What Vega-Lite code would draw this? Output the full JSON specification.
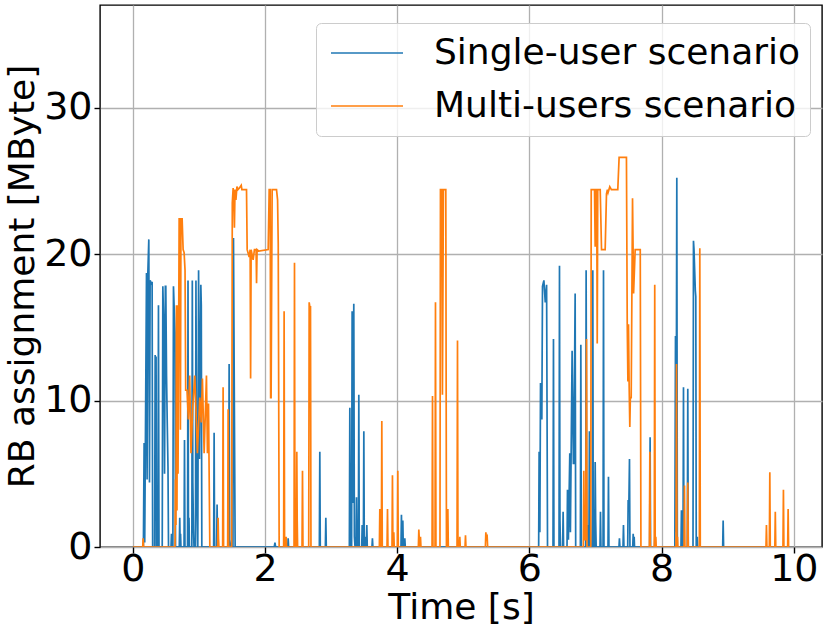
{
  "$schema": "https://vega.github.io/schema/vega-lite/v6.json",
  "width": 722,
  "height": 542,
  "autosize": {"type": "none"},
  "padding": {"left": 100, "top": 5, "right": 1, "bottom": 81},
  "background": "white",
  "config": {
    "font": "DejaVu Sans",
    "view": {"stroke": "#000000", "strokeWidth": 1.4},
    "axis": {
      "grid": true,
      "gridColor": "#b0b0b0",
      "gridWidth": 1.3,
      "domain": false,
      "tickColor": "#000000",
      "tickSize": 6,
      "tickWidth": 1.4,
      "labelFont": "DejaVu Sans",
      "labelFontSize": 38,
      "labelColor": "#000000",
      "titleFont": "DejaVu Sans",
      "titleFontSize": 36,
      "titleFontWeight": "normal",
      "titleColor": "#000000"
    }
  },
  "datasets": {
    "single": [
      {"t": 0, "v": 0},
      {"t": 0.16, "v": 0}, {"t": 0.171, "v": 7.1}, {"t": 0.18, "v": 0.3}, {"t": 0.19, "v": 6.9},
      {"t": 0.207, "v": 18.7}, {"t": 0.216, "v": 4.6}, {"t": 0.226, "v": 18.5}, {"t": 0.242, "v": 21.0},
      {"t": 0.252, "v": 4.4}, {"t": 0.262, "v": 18.2}, {"t": 0.28, "v": 18.0}, {"t": 0.292, "v": 18.1}, {"t": 0.3, "v": 0},
      {"t": 0.33, "v": 0}, {"t": 0.338, "v": 13.1}, {"t": 0.345, "v": 10.3}, {"t": 0.352, "v": 13.0}, {"t": 0.358, "v": 0},
      {"t": 0.38, "v": 0}, {"t": 0.388, "v": 16.5}, {"t": 0.396, "v": 0},
      {"t": 0.445, "v": 0}, {"t": 0.454, "v": 17.8}, {"t": 0.47, "v": 14.8}, {"t": 0.48, "v": 5.0}, {"t": 0.492, "v": 17.8},
      {"t": 0.499, "v": 17.8}, {"t": 0.51, "v": 11.7}, {"t": 0.52, "v": 8.7}, {"t": 0.532, "v": 5.5}, {"t": 0.54, "v": 0},
      {"t": 0.578, "v": 0}, {"t": 0.585, "v": 0.9}, {"t": 0.592, "v": 0},
      {"t": 0.606, "v": 0}, {"t": 0.615, "v": 17.8}, {"t": 0.638, "v": 14.6}, {"t": 0.646, "v": 0},
      {"t": 0.703, "v": 0}, {"t": 0.71, "v": 2.0}, {"t": 0.717, "v": 0}, {"t": 0.722, "v": 0.9}, {"t": 0.728, "v": 0},
      {"t": 0.775, "v": 0}, {"t": 0.782, "v": 7.3}, {"t": 0.789, "v": 0},
      {"t": 0.828, "v": 0}, {"t": 0.835, "v": 18.2}, {"t": 0.842, "v": 0}, {"t": 0.85, "v": 2.0}, {"t": 0.857, "v": 0},
      {"t": 0.893, "v": 0}, {"t": 0.9, "v": 18.2}, {"t": 0.908, "v": 4.4}, {"t": 0.918, "v": 1.2}, {"t": 0.926, "v": 0},
      {"t": 0.948, "v": 0}, {"t": 0.955, "v": 18.2}, {"t": 0.965, "v": 6.0}, {"t": 0.975, "v": 2.0}, {"t": 0.983, "v": 0},
      {"t": 0.995, "v": 18.9}, {"t": 1.008, "v": 6.0}, {"t": 1.029, "v": 17.9}, {"t": 1.036, "v": 16.5}, {"t": 1.044, "v": 0},
      {"t": 1.223, "v": 0}, {"t": 1.23, "v": 7.8}, {"t": 1.237, "v": 0},
      {"t": 1.268, "v": 0}, {"t": 1.275, "v": 2.9}, {"t": 1.282, "v": 0},
      {"t": 1.45, "v": 0}, {"t": 1.457, "v": 12.5}, {"t": 1.465, "v": 0.5}, {"t": 1.48, "v": 0},
      {"t": 1.515, "v": 0}, {"t": 1.523, "v": 21.1}, {"t": 1.53, "v": 15.0}, {"t": 1.548, "v": 0},
      {"t": 2.14, "v": 0}, {"t": 2.15, "v": 0.3}, {"t": 2.16, "v": 0},
      {"t": 2.343, "v": 0}, {"t": 2.35, "v": 0.6}, {"t": 2.357, "v": 0},
      {"t": 2.822, "v": 0}, {"t": 2.829, "v": 6.5}, {"t": 2.836, "v": 0},
      {"t": 2.913, "v": 0}, {"t": 2.92, "v": 2.0}, {"t": 2.927, "v": 0},
      {"t": 3.276, "v": 0}, {"t": 3.283, "v": 9.5}, {"t": 3.292, "v": 0.5}, {"t": 3.3, "v": 0},
      {"t": 3.31, "v": 0}, {"t": 3.318, "v": 16.1}, {"t": 3.33, "v": 3.0}, {"t": 3.343, "v": 16.6}, {"t": 3.352, "v": 0.7}, {"t": 3.362, "v": 0},
      {"t": 3.377, "v": 0}, {"t": 3.384, "v": 3.4}, {"t": 3.391, "v": 0},
      {"t": 3.412, "v": 0}, {"t": 3.419, "v": 10.4}, {"t": 3.426, "v": 0},
      {"t": 3.463, "v": 0}, {"t": 3.47, "v": 1.5}, {"t": 3.477, "v": 0},
      {"t": 3.488, "v": 0}, {"t": 3.495, "v": 7.9}, {"t": 3.502, "v": 0}, {"t": 3.51, "v": 0.7}, {"t": 3.517, "v": 0},
      {"t": 3.533, "v": 0}, {"t": 3.54, "v": 1.5}, {"t": 3.547, "v": 0},
      {"t": 3.618, "v": 0}, {"t": 3.625, "v": 0.6}, {"t": 3.632, "v": 0},
      {"t": 4.057, "v": 0}, {"t": 4.064, "v": 2.2}, {"t": 4.071, "v": 0}, {"t": 4.078, "v": 0}, {"t": 4.085, "v": 1.8}, {"t": 4.092, "v": 0},
      {"t": 4.108, "v": 0}, {"t": 4.115, "v": 0.6}, {"t": 4.122, "v": 0},
      {"t": 6.14, "v": 0}, {"t": 6.147, "v": 6.5}, {"t": 6.158, "v": 1.0}, {"t": 6.168, "v": 11.2}, {"t": 6.188, "v": 8.7},
      {"t": 6.198, "v": 17.8}, {"t": 6.219, "v": 18.2}, {"t": 6.24, "v": 16.7}, {"t": 6.26, "v": 17.9}, {"t": 6.274, "v": 0},
      {"t": 6.357, "v": 0}, {"t": 6.364, "v": 14.2}, {"t": 6.371, "v": 0},
      {"t": 6.448, "v": 0}, {"t": 6.455, "v": 19.2}, {"t": 6.462, "v": 1.9}, {"t": 6.47, "v": 0},
      {"t": 6.503, "v": 0}, {"t": 6.51, "v": 2.4}, {"t": 6.517, "v": 0},
      {"t": 6.569, "v": 0}, {"t": 6.576, "v": 3.9}, {"t": 6.59, "v": 0.5}, {"t": 6.611, "v": 6.4}, {"t": 6.62, "v": 1.0},
      {"t": 6.646, "v": 13.4}, {"t": 6.665, "v": 5.7}, {"t": 6.672, "v": 5.7}, {"t": 6.692, "v": 17.3}, {"t": 6.7, "v": 0},
      {"t": 6.771, "v": 0}, {"t": 6.778, "v": 13.8}, {"t": 6.785, "v": 0},
      {"t": 6.851, "v": 0}, {"t": 6.858, "v": 18.9}, {"t": 6.868, "v": 0.8}, {"t": 6.88, "v": 1.5}, {"t": 6.89, "v": 0},
      {"t": 6.9, "v": 0}, {"t": 6.908, "v": 7.9}, {"t": 6.916, "v": 3.4}, {"t": 6.925, "v": 0},
      {"t": 6.952, "v": 0}, {"t": 6.959, "v": 18.9}, {"t": 6.966, "v": 0},
      {"t": 6.988, "v": 0}, {"t": 6.995, "v": 5.8}, {"t": 7.002, "v": 1.9}, {"t": 7.01, "v": 0},
      {"t": 7.068, "v": 0}, {"t": 7.075, "v": 2.4}, {"t": 7.082, "v": 0},
      {"t": 7.114, "v": 0}, {"t": 7.121, "v": 18.9}, {"t": 7.128, "v": 0},
      {"t": 7.189, "v": 0}, {"t": 7.196, "v": 4.8}, {"t": 7.203, "v": 0},
      {"t": 7.355, "v": 0}, {"t": 7.362, "v": 0.6}, {"t": 7.369, "v": 0},
      {"t": 7.416, "v": 0}, {"t": 7.423, "v": 1.5}, {"t": 7.43, "v": 0},
      {"t": 7.487, "v": 0}, {"t": 7.494, "v": 3.2}, {"t": 7.505, "v": 3.0}, {"t": 7.514, "v": 6.0}, {"t": 7.521, "v": 0},
      {"t": 7.563, "v": 0}, {"t": 7.57, "v": 0.9}, {"t": 7.577, "v": 0}, {"t": 7.585, "v": 0.7}, {"t": 7.59, "v": 0},
      {"t": 7.819, "v": 0}, {"t": 7.826, "v": 7.5}, {"t": 7.833, "v": 0},
      {"t": 7.893, "v": 0}, {"t": 7.9, "v": 1.1}, {"t": 7.907, "v": 0},
      {"t": 8.2, "v": 0}, {"t": 8.21, "v": 14.4}, {"t": 8.218, "v": 1.0}, {"t": 8.23, "v": 25.2}, {"t": 8.238, "v": 0},
      {"t": 8.293, "v": 0}, {"t": 8.3, "v": 2.5}, {"t": 8.307, "v": 0},
      {"t": 8.324, "v": 0}, {"t": 8.331, "v": 10.9}, {"t": 8.338, "v": 0},
      {"t": 8.389, "v": 0}, {"t": 8.396, "v": 10.8}, {"t": 8.403, "v": 0},
      {"t": 8.475, "v": 0}, {"t": 8.482, "v": 20.9}, {"t": 8.49, "v": 20.3}, {"t": 8.51, "v": 17.5}, {"t": 8.517, "v": 17.1}, {"t": 8.524, "v": 0},
      {"t": 8.535, "v": 0}, {"t": 8.54, "v": 0.7}, {"t": 8.545, "v": 0},
      {"t": 8.924, "v": 0}, {"t": 8.931, "v": 1.8}, {"t": 8.938, "v": 0},
      {"t": 9.93, "v": 0}
    ],
    "multi": [
      {"t": 0, "v": 0},
      {"t": 0.15, "v": 0}, {"t": 0.156, "v": 0.6}, {"t": 0.162, "v": 0},
      {"t": 0.638, "v": 0}, {"t": 0.645, "v": 4.6}, {"t": 0.652, "v": 1.5}, {"t": 0.66, "v": 16.5}, {"t": 0.668, "v": 2.5},
      {"t": 0.676, "v": 16.5}, {"t": 0.684, "v": 5.0}, {"t": 0.701, "v": 22.4}, {"t": 0.712, "v": 22.4}, {"t": 0.72, "v": 8.0},
      {"t": 0.728, "v": 22.4}, {"t": 0.746, "v": 22.4}, {"t": 0.761, "v": 20.3}, {"t": 0.776, "v": 20.1}, {"t": 0.79, "v": 18.9},
      {"t": 0.8, "v": 10.7}, {"t": 0.82, "v": 10.7}, {"t": 0.84, "v": 8.7}, {"t": 0.86, "v": 11.7}, {"t": 0.88, "v": 6.4},
      {"t": 0.905, "v": 9.4}, {"t": 0.937, "v": 11.7}, {"t": 0.962, "v": 8.5}, {"t": 0.977, "v": 6.4}, {"t": 1.013, "v": 10.2},
      {"t": 1.035, "v": 8.5}, {"t": 1.053, "v": 11.5}, {"t": 1.079, "v": 6.4}, {"t": 1.114, "v": 11.7}, {"t": 1.129, "v": 6.4},
      {"t": 1.145, "v": 9.8}, {"t": 1.165, "v": 0},
      {"t": 1.283, "v": 0}, {"t": 1.29, "v": 2.0}, {"t": 1.296, "v": 0.6}, {"t": 1.302, "v": 0},
      {"t": 1.359, "v": 0}, {"t": 1.366, "v": 10.9}, {"t": 1.373, "v": 0},
      {"t": 1.435, "v": 0}, {"t": 1.442, "v": 9.4}, {"t": 1.449, "v": 0},
      {"t": 1.495, "v": 0}, {"t": 1.505, "v": 23.5}, {"t": 1.518, "v": 24.5}, {"t": 1.528, "v": 23.5}, {"t": 1.537, "v": 21.8},
      {"t": 1.546, "v": 24.4}, {"t": 1.56, "v": 23.7}, {"t": 1.575, "v": 24.6}, {"t": 1.59, "v": 24.4}, {"t": 1.61, "v": 24.5},
      {"t": 1.64, "v": 24.7}, {"t": 1.65, "v": 24.4}, {"t": 1.72, "v": 24.4}, {"t": 1.73, "v": 20.3}, {"t": 1.76, "v": 19.8},
      {"t": 1.775, "v": 20.3}, {"t": 1.782, "v": 11.5}, {"t": 1.79, "v": 20.3}, {"t": 1.82, "v": 19.6}, {"t": 1.84, "v": 20.3},
      {"t": 1.865, "v": 20.3}, {"t": 1.872, "v": 18.0}, {"t": 1.88, "v": 20.3}, {"t": 1.906, "v": 20.2}, {"t": 2.048, "v": 20.3},
      {"t": 2.063, "v": 24.4}, {"t": 2.078, "v": 24.4}, {"t": 2.085, "v": 10.2}, {"t": 2.092, "v": 10.2}, {"t": 2.108, "v": 24.4},
      {"t": 2.174, "v": 24.4}, {"t": 2.19, "v": 23.7}, {"t": 2.2, "v": 20.7}, {"t": 2.214, "v": 0},
      {"t": 2.282, "v": 0}, {"t": 2.289, "v": 16.1}, {"t": 2.296, "v": 0},
      {"t": 2.313, "v": 0}, {"t": 2.32, "v": 0.7}, {"t": 2.327, "v": 0},
      {"t": 2.439, "v": 0}, {"t": 2.446, "v": 19.4}, {"t": 2.453, "v": 0}, {"t": 2.474, "v": 0}, {"t": 2.481, "v": 6.5}, {"t": 2.487, "v": 1.8}, {"t": 2.493, "v": 0},
      {"t": 2.56, "v": 0}, {"t": 2.567, "v": 5.2}, {"t": 2.574, "v": 0},
      {"t": 2.661, "v": 0}, {"t": 2.668, "v": 16.7}, {"t": 2.678, "v": 16.4}, {"t": 2.688, "v": 16.4}, {"t": 2.695, "v": 0},
      {"t": 3.73, "v": 0}, {"t": 3.737, "v": 2.6}, {"t": 3.744, "v": 0},
      {"t": 3.76, "v": 0}, {"t": 3.767, "v": 8.6}, {"t": 3.774, "v": 0},
      {"t": 3.846, "v": 0}, {"t": 3.853, "v": 2.6}, {"t": 3.86, "v": 0},
      {"t": 3.921, "v": 0}, {"t": 3.928, "v": 4.9}, {"t": 3.935, "v": 0}, {"t": 3.941, "v": 0}, {"t": 3.948, "v": 1.0}, {"t": 3.955, "v": 0},
      {"t": 4.002, "v": 0}, {"t": 4.009, "v": 5.2}, {"t": 4.016, "v": 0},
      {"t": 4.32, "v": 0}, {"t": 4.327, "v": 1.2}, {"t": 4.34, "v": 0}, {"t": 4.352, "v": 0.7}, {"t": 4.359, "v": 0},
      {"t": 4.527, "v": 0}, {"t": 4.534, "v": 10.3}, {"t": 4.541, "v": 0},
      {"t": 4.572, "v": 0}, {"t": 4.579, "v": 16.7}, {"t": 4.586, "v": 0},
      {"t": 4.647, "v": 0}, {"t": 4.654, "v": 24.4}, {"t": 4.674, "v": 24.4}, {"t": 4.684, "v": 10.4}, {"t": 4.699, "v": 24.4},
      {"t": 4.735, "v": 24.4}, {"t": 4.745, "v": 0},
      {"t": 4.759, "v": 0}, {"t": 4.766, "v": 2.6}, {"t": 4.773, "v": 0},
      {"t": 4.905, "v": 0}, {"t": 4.912, "v": 14.1}, {"t": 4.919, "v": 0},
      {"t": 4.94, "v": 0}, {"t": 4.947, "v": 0.7}, {"t": 4.954, "v": 0},
      {"t": 5.026, "v": 0}, {"t": 5.033, "v": 0.8}, {"t": 5.04, "v": 0},
      {"t": 5.334, "v": 0}, {"t": 5.341, "v": 1.0}, {"t": 5.35, "v": 0.6}, {"t": 5.361, "v": 0.7}, {"t": 5.368, "v": 0},
      {"t": 6.816, "v": 0}, {"t": 6.823, "v": 5.2}, {"t": 6.83, "v": 0.5}, {"t": 6.85, "v": 0.5}, {"t": 6.864, "v": 14.2}, {"t": 6.871, "v": 0},
      {"t": 6.928, "v": 0}, {"t": 6.935, "v": 24.4}, {"t": 6.985, "v": 24.4}, {"t": 6.995, "v": 20.5}, {"t": 7.01, "v": 24.4},
      {"t": 7.018, "v": 24.4}, {"t": 7.026, "v": 13.9}, {"t": 7.034, "v": 24.4}, {"t": 7.071, "v": 24.4}, {"t": 7.091, "v": 20.3},
      {"t": 7.146, "v": 20.3}, {"t": 7.166, "v": 24.1}, {"t": 7.18, "v": 24.4}, {"t": 7.19, "v": 24.2}, {"t": 7.216, "v": 24.6},
      {"t": 7.24, "v": 24.4}, {"t": 7.337, "v": 24.4}, {"t": 7.357, "v": 26.6}, {"t": 7.468, "v": 26.6}, {"t": 7.48, "v": 15.2},
      {"t": 7.49, "v": 11.3}, {"t": 7.499, "v": 15.2}, {"t": 7.508, "v": 11.3}, {"t": 7.519, "v": 8.2}, {"t": 7.527, "v": 10.2},
      {"t": 7.54, "v": 10.2}, {"t": 7.56, "v": 23.8}, {"t": 7.576, "v": 17.3}, {"t": 7.6, "v": 20.3}, {"t": 7.677, "v": 20.3}, {"t": 7.687, "v": 0},
      {"t": 7.815, "v": 0}, {"t": 7.822, "v": 6.5}, {"t": 7.829, "v": 0},
      {"t": 7.889, "v": 0}, {"t": 7.896, "v": 17.9}, {"t": 7.903, "v": 0}, {"t": 7.912, "v": 0.7}, {"t": 7.918, "v": 0},
      {"t": 8.218, "v": 0}, {"t": 8.225, "v": 12.5}, {"t": 8.232, "v": 0}, {"t": 8.24, "v": 0.7}, {"t": 8.246, "v": 0},
      {"t": 8.339, "v": 0}, {"t": 8.346, "v": 4.2}, {"t": 8.353, "v": 0},
      {"t": 8.389, "v": 0}, {"t": 8.396, "v": 4.4}, {"t": 8.403, "v": 0},
      {"t": 8.571, "v": 0}, {"t": 8.578, "v": 20.4}, {"t": 8.585, "v": 0},
      {"t": 9.579, "v": 0}, {"t": 9.586, "v": 1.5}, {"t": 9.593, "v": 0},
      {"t": 9.63, "v": 0}, {"t": 9.637, "v": 5.1}, {"t": 9.644, "v": 0},
      {"t": 9.713, "v": 0}, {"t": 9.72, "v": 2.4}, {"t": 9.727, "v": 0},
      {"t": 9.836, "v": 0}, {"t": 9.843, "v": 3.9}, {"t": 9.85, "v": 0},
      {"t": 9.907, "v": 0}, {"t": 9.914, "v": 2.6}, {"t": 9.921, "v": 0},
      {"t": 9.93, "v": 0}
    ]
  },
  "encoding": {
    "x": {
      "field": "t",
      "type": "quantitative",
      "scale": {"domain": [-0.4965, 10.4265], "nice": false, "zero": false},
      "axis": {"values": [0, 2, 4, 6, 8, 10], "title": "Time [s]", "labelPadding": -3, "titlePadding": 2}
    },
    "y": {
      "field": "v",
      "type": "quantitative",
      "scale": {"domain": [0, 37], "nice": false},
      "axis": {"values": [0, 10, 20, 30], "title": "RB assignment [MByte]", "labelPadding": 2, "titlePadding": 2}
    }
  },
  "layer": [
    {
      "data": {"name": "single"},
      "mark": {"type": "line", "strokeWidth": 1.7, "clip": true, "interpolate": "linear"},
      "encoding": {
        "color": {
          "datum": "Single-user scenario",
          "type": "nominal",
          "scale": {"domain": ["Single-user scenario", "Multi-users scenario"], "range": ["#1f77b4", "#ff7f0e"]},
          "legend": {
            "orient": "none",
            "legendX": 216,
            "legendY": 18,
            "title": null,
            "labelFont": "DejaVu Sans",
            "labelFontSize": 36,
            "labelColor": "#000000",
            "labelLimit": 700,
            "symbolType": "stroke",
            "symbolSize": 5184,
            "symbolStrokeWidth": 1.7,
            "clipHeight": 42,
            "rowPadding": 11,
            "padding": 9,
            "symbolOffset": 5,
            "labelOffset": 30,
            "fillColor": "rgba(255,255,255,0.8)",
            "strokeColor": "#cccccc",
            "cornerRadius": 5
          }
        }
      }
    },
    {
      "data": {"name": "multi"},
      "mark": {"type": "line", "strokeWidth": 1.7, "clip": true, "interpolate": "linear"},
      "encoding": {
        "color": {"datum": "Multi-users scenario", "type": "nominal"}
      }
    }
  ]
}
